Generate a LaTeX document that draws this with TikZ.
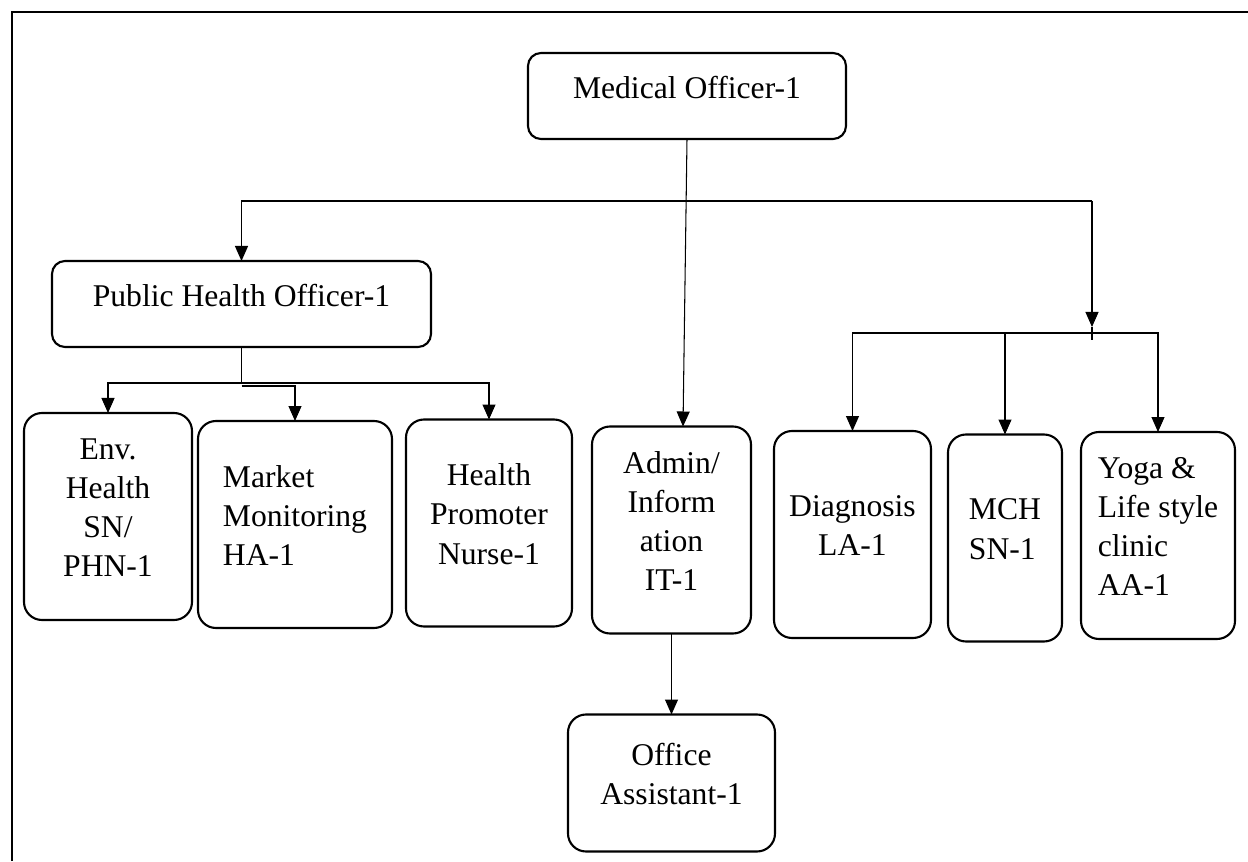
\documentclass[tikz,border=0pt]{standalone}
\usepackage{fontspec}
\setmainfont{Liberation Serif}
\usetikzlibrary{arrows.meta, positioning}

\begin{document}
\begin{tikzpicture}[
  font=\fontsize{18}{22.3}\selectfont,
  box/.style = {draw, line width=1.2pt, rounded corners=0.36cm, align=center, inner sep=2pt, outer sep=0pt, text depth=0.36cm},
  wide/.style = {box, rounded corners=0.26cm, minimum height=1.72cm},
  tall/.style = {box, minimum height=4.14cm},
  arrow/.style = {line width=0.6pt, -{Triangle[length=3mm,width=2.6mm]}}
]
\useasboundingbox (0,0) rectangle (24.96,17.22);
\draw[line width=1.1pt] (0.24,0) -- (0.24,16.98) -- (24.96,16.98);

\node[wide, minimum width=6.36cm] (mo) at (13.74,15.30) {Medical Officer-1};
\node[wide, minimum width=7.58cm] (pho) at (4.83,11.14) {Public Health Officer-1};

\node[tall, minimum width=3.36cm] (env) at (2.16,6.89) {Env.\\Health\\SN/\\PHN-1};
\node[tall, minimum width=3.88cm, align=left, right=0.12cm of env, yshift=-0.16cm] (mkt) {Market\\Monitoring\\HA-1};
\node[tall, minimum width=3.32cm, right=0.28cm of mkt, yshift=0.03cm] (hp) {Health\\Promoter\\Nurse-1};
\node[tall, minimum width=3.18cm, right=0.40cm of hp, yshift=-0.14cm] (admin) {Admin/\\Inform\\ation\\IT-1};
\node[tall, minimum width=3.14cm, right=0.46cm of admin, yshift=-0.09cm] (diag) {Diagnosis\\LA-1};
\node[tall, minimum width=2.28cm, align=left, right=0.34cm of diag, yshift=-0.07cm] (mch) {MCH\\SN-1};
\node[tall, minimum width=3.08cm, align=left, right=0.38cm of mch, yshift=0.05cm] (yoga) {Yoga \&\\Life style\\clinic\\AA-1};
\node[box, minimum width=4.14cm, minimum height=2.74cm, below=1.62cm of admin] (office) {Office\\Assistant-1};

% top level
\coordinate (hub) at (21.84,13.20);
\coordinate (split) at (21.84,10.56);
\draw[arrow] (mo.south) -- ([xshift=0.23cm]admin.north);
\draw[arrow] (hub) -| (pho.north);
\draw[arrow] (hub) -- ([yshift=0.12cm]split);
\draw[line width=0.6pt] ([yshift=0.12cm]split) -- ([yshift=-0.14cm]split);
\draw[arrow] (split) -| (diag.north);
\draw[arrow] (split) -| (yoga.north);
\draw[arrow] (mch.north |- split) -- (mch.north);

% public health branch
\coordinate (phobar) at (4.83,9.56);
\draw[line width=1pt] (pho.south) -- (phobar);
\draw[arrow] (phobar) -| (env.north);
\draw[arrow] (phobar) -| (hp.north);
\draw[arrow] ([yshift=-0.06cm]phobar) -| (mkt.north);

\draw[arrow] (admin) -- (office);
\end{tikzpicture}
\end{document}
